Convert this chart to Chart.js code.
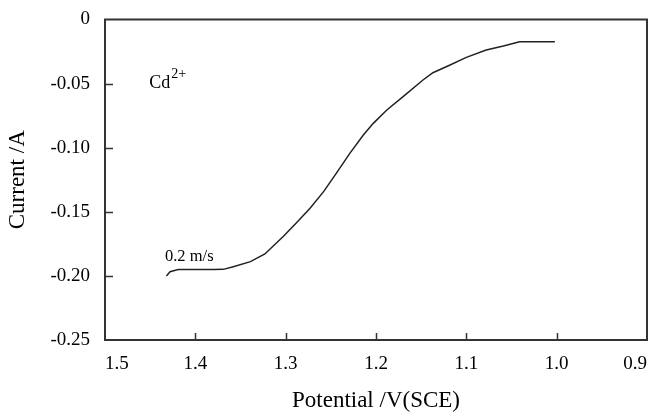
<!DOCTYPE html>
<html>
<head>
<meta charset="utf-8">
<script src="https://cdn.jsdelivr.net/npm/chart.js@4/dist/chart.umd.min.js"></script>
<style>
html,body{margin:0;padding:0;background:#fff;}
#wrap{width:654px;height:412px;position:relative;}
</style>
</head>
<body>
<div id="wrap"><canvas id="c" width="654" height="412"></canvas></div>
<script>
// ---- data ----
const potential = [1.432, 1.428, 1.419, 1.400, 1.380, 1.369, 1.358, 1.339, 1.323, 1.303, 1.288, 1.273, 1.258, 1.244, 1.229, 1.214, 1.203, 1.188, 1.170, 1.148, 1.137, 1.118, 1.100, 1.078, 1.059, 1.041, 1.020, 1.002];
const current   = [-0.200, -0.1967, -0.1950, -0.1950, -0.1950, -0.1949, -0.1928, -0.1889, -0.1829, -0.1694, -0.1585, -0.1473, -0.1343, -0.1200, -0.1044, -0.0901, -0.0810, -0.0706, -0.0602, -0.0472, -0.0415, -0.0355, -0.0295, -0.0238, -0.0207, -0.0173, -0.0173, -0.0173];
const xTickValues = [0.9, 1.0, 1.1, 1.2, 1.3, 1.4, 1.5];
const xTickLabels = ["0.9", "1.0", "1.1", "1.2", "1.3", "1.4", "1.5"];
const yTickValues = [-0.25, -0.20, -0.15, -0.10, -0.05, 0];
const yTickLabels = ["-0.25", "-0.20", "-0.15", "-0.10", "-0.05", "0"];
const xTitle = "Potential /V(SCE)";
const yTitle = "Current /A";
const ionLabel = "Cd";
const ionCharge = "2+";
const ionAnchor = [1.451, -0.0534];
const speedLabel = "0.2 m/s";
const speedAnchor = [1.4336, -0.1884];

const FONT = "'Liberation Serif', 'Times New Roman', serif";
const points = potential.map((x, i) => ({x: x, y: current[i]}));

function labelFor(values, labels, v) {
  const i = values.findIndex(t => Math.abs(t - v) < 1e-9);
  return i >= 0 ? labels[i] : '';
}

const framePlugin = {
  id: 'frame',
  afterDraw(chart) {
    const ctx = chart.ctx;
    const a = chart.chartArea;
    const xs = chart.scales.x, ys = chart.scales.y;
    ctx.save();
    ctx.strokeStyle = '#333';
    ctx.lineWidth = 2;
    ctx.strokeRect(a.left, a.top, a.right - a.left, a.bottom - a.top);
    ctx.lineWidth = 1.5;
    ctx.beginPath();
    xTickValues.forEach(v => {
      const px = Math.round(xs.getPixelForValue(v)) + 0.5;
      if (px > a.left + 3 && px < a.right - 3) {
        ctx.moveTo(px, a.bottom);
        ctx.lineTo(px, a.bottom - 7);
      }
    });
    yTickValues.forEach(v => {
      const py = Math.round(ys.getPixelForValue(v)) + 0.5;
      if (py > a.top + 3 && py < a.bottom - 3) {
        ctx.moveTo(a.left, py);
        ctx.lineTo(a.left + 8, py);
      }
    });
    ctx.stroke();
    // annotations
    ctx.fillStyle = '#000';
    ctx.textBaseline = 'alphabetic';
    ctx.textAlign = 'left';
    let x0 = xs.getPixelForValue(ionAnchor[0]);
    let y0 = ys.getPixelForValue(ionAnchor[1]);
    ctx.font = "18px " + FONT;
    ctx.fillText(ionLabel, x0, y0);
    const w = ctx.measureText(ionLabel).width;
    ctx.font = "14px " + FONT;
    ctx.fillText(ionCharge, x0 + w + 1, y0 - 10);
    ctx.font = "16.5px " + FONT;
    ctx.fillText(speedLabel, xs.getPixelForValue(speedAnchor[0]), ys.getPixelForValue(speedAnchor[1]));
    ctx.restore();
  }
};

new Chart(document.getElementById('c'), {
  type: 'scatter',
  data: {
    datasets: [{
      data: points,
      showLine: true,
      borderColor: '#222',
      borderWidth: 1.5,
      pointRadius: 0,
      tension: 0,
      fill: false
    }]
  },
  options: {
    responsive: false,
    animation: false,
    devicePixelRatio: 1,
    layout: {padding: {top: 19.5, right: 7, bottom: 0, left: 0}},
    plugins: {legend: {display: false}, tooltip: {enabled: false}},
    scales: {
      x: {
        type: 'linear',
        reverse: true,
        min: 0.9,
        max: 1.5,
        afterBuildTicks(scale) { scale.ticks = xTickValues.map(v => ({value: v})); },
        afterFit(scale) { scale.height = 72; scale.paddingLeft = 0; scale.paddingRight = 0; },
        grid: {display: false, drawTicks: false},
        border: {display: false},
        ticks: {
          align: 'inner',
          padding: 13,
          color: '#000',
          font: {family: FONT, size: 19},
          maxRotation: 0,
          autoSkip: false,
          callback: (v) => labelFor(xTickValues, xTickLabels, v)
        },
        title: {
          display: true,
          text: xTitle,
          color: '#000',
          font: {family: FONT, size: 23, lineHeight: 1},
          padding: {top: 0, bottom: 0}
        }
      },
      y: {
        type: 'linear',
        min: -0.25,
        max: 0,
        afterBuildTicks(scale) { scale.ticks = yTickValues.map(v => ({value: v})); },
        afterFit(scale) { scale.width = 105; scale.paddingTop = 0; scale.paddingBottom = 0; },
        grid: {display: false, drawTicks: false},
        border: {display: false},
        ticks: {
          padding: 15,
          color: '#000',
          font: {family: FONT, size: 19},
          autoSkip: false,
          callback: (v) => labelFor(yTickValues, yTickLabels, v)
        },
        title: {
          display: true,
          text: yTitle,
          color: '#000',
          font: {family: FONT, size: 23, lineHeight: 1},
          padding: {top: 6, bottom: 0}
        }
      }
    }
  },
  plugins: [framePlugin]
});
</script>
</body>
</html>
